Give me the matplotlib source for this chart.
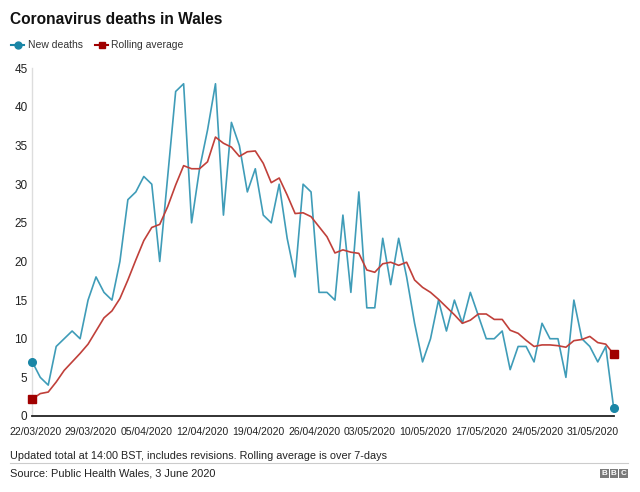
import matplotlib
matplotlib.use("Agg")
import matplotlib.pyplot as plt
import matplotlib.transforms as mtransforms
from matplotlib.lines import Line2D
from matplotlib.patches import Rectangle
import pandas as pd

plt.rcParams['font.family'] = ['Liberation Sans', 'DejaVu Sans']

start_date = "2020-03-22"
new_deaths = [7, 5, 4, 9, 10, 11, 10, 15, 18, 16, 15, 20, 28, 29, 31, 30,
              20, 31, 42, 43, 25, 32, 37, 43, 26, 38, 35, 29, 32, 26, 25, 30,
              23, 18, 30, 29, 16, 16, 15, 26, 16, 29, 14, 14, 23, 17, 23, 18,
              12, 7, 10, 15, 11, 15, 12, 16, 13, 10, 10, 11, 6, 9, 9, 7,
              12, 10, 10, 5, 15, 10, 9, 7, 9, 1]
rolling_avg = [2.2, 2.9, 3.1, 4.4, 5.9, 7.0, 8.1, 9.3, 11.0, 12.7, 13.6, 15.2,
               17.6, 20.2, 22.7, 24.4, 24.8, 27.1, 29.9, 32.4, 32.0, 32.0, 32.9,
               36.1, 35.3, 34.8, 33.6, 34.2, 34.3, 32.7, 30.2, 30.8, 28.6, 26.2,
               26.3, 25.8, 24.5, 23.2, 21.1, 21.5, 21.2, 21.05, 18.9, 18.6, 19.7,
               19.9, 19.5, 19.9, 17.6, 16.65, 16.0, 15.1, 14.1, 13.1, 12.0, 12.4,
               13.2, 13.2, 12.5, 12.5, 11.1, 10.7, 9.8, 9.0, 9.2, 9.2, 9.1, 8.9,
               9.75, 9.9, 10.3, 9.5, 9.3, 8.0]
tick_labels = ["22/03/2020", "29/03/2020", "05/04/2020", "12/04/2020",
               "19/04/2020", "26/04/2020", "03/05/2020", "10/05/2020",
               "17/05/2020", "24/05/2020", "31/05/2020"]
y_ticks = [0, 5, 10, 15, 20, 25, 30, 35, 40, 45]

dates = pd.date_range(start_date, periods=len(new_deaths), freq="D")
tick_dates = pd.to_datetime(tick_labels, format="%d/%m/%Y")

BLUE_LINE = "#3f9cb8"
BLUE_DOT = "#1a86a6"
RED_LINE = "#c0403a"
RED_SQ = "#a00000"

fig = plt.figure(figsize=(6.4, 4.92), dpi=100)
ax = fig.add_axes([32.3 / 640, 1 - 416 / 492, (613.7 - 32.3) / 640, (416 - 68.3) / 492])

ax.plot(dates, new_deaths, color=BLUE_LINE, lw=1.2, zorder=3)
ax.plot(dates, rolling_avg, color=RED_LINE, lw=1.2, zorder=4)
ax.plot([dates[0], dates[-1]], [new_deaths[0], new_deaths[-1]], 'o', color=BLUE_DOT,
        ms=5.5, clip_on=False, zorder=5)
ax.plot([dates[0], dates[-1]], [rolling_avg[0], rolling_avg[-1]], 's', color=RED_SQ,
        ms=5.5, clip_on=False, zorder=5)

ax.set_xlim(dates[0], dates[-1])
ax.set_ylim(0, 45)
ax.set_xticks(tick_dates)
ax.set_xticklabels(tick_labels, fontsize=7.5, color="#222222")
ax.set_yticks(y_ticks)
ax.set_yticklabels([str(v) for v in y_ticks], fontsize=8.5, color="#222222")
ax.tick_params(axis='both', length=0)
ax.tick_params(axis='x', pad=8)
ax.tick_params(axis='y', pad=3.5)
shift = mtransforms.ScaledTranslation(3 / 100, 0, fig.dpi_scale_trans)
for lab in ax.get_xticklabels():
    lab.set_transform(lab.get_transform() + shift)
for s in ['top', 'right']:
    ax.spines[s].set_visible(False)
ax.spines['left'].set_color("#dddddd")
ax.spines['left'].set_linewidth(1.0)
ax.spines['bottom'].set_color("#222222")
ax.spines['bottom'].set_linewidth(1.3)
ax.spines['bottom'].set_zorder(6)

# Title
fig.text(10 / 640, 1 - 20 / 492, "Coronavirus deaths in Wales", fontsize=11.2,
         fontweight='bold', va='center', ha='left', color="#111111")

# Legend (manual)
ly = 1 - 45 / 492
fig.add_artist(Line2D([11 / 640, 24 / 640], [ly, ly], color=BLUE_DOT, lw=1.5,
                      transform=fig.transFigure))
fig.add_artist(Line2D([17.5 / 640], [ly], marker='o', color=BLUE_DOT, ms=5,
                      transform=fig.transFigure))
fig.text(28 / 640, ly, "New deaths", fontsize=7.5, va='center', ha='left', color="#333333")
fig.add_artist(Line2D([95 / 640, 108 / 640], [ly, ly], color=RED_SQ, lw=1.5,
                      transform=fig.transFigure))
fig.add_artist(Line2D([101.5 / 640], [ly], marker='s', color=RED_SQ, ms=5,
                      transform=fig.transFigure))
fig.text(111 / 640, ly, "Rolling average", fontsize=7.5, va='center', ha='left', color="#333333")

# Footer
fig.text(10 / 640, 1 - 456 / 492,
         "Updated total at 14:00 BST, includes revisions. Rolling average is over 7-days",
         fontsize=7.85, va='center', ha='left', color="#222222")
fig.add_artist(Line2D([10 / 640, 628 / 640], [1 - 463 / 492, 1 - 463 / 492],
                      color="#cccccc", lw=0.8, transform=fig.transFigure))
fig.text(10 / 640, 1 - 473 / 492, "Source: Public Health Wales, 3 June 2020",
         fontsize=7.9, va='center', ha='left', color="#222222")

# BBC logo
for i, ch in enumerate("BBC"):
    x0 = (600 + i * 9.5) / 640
    fig.add_artist(Rectangle((x0, 1 - 478 / 492), 8.5 / 640, 9.5 / 492,
                             facecolor="#7a7a7a", edgecolor='none',
                             transform=fig.transFigure))
    fig.text(x0 + 4.25 / 640, 1 - 473.3 / 492, ch, fontsize=5.8, fontweight='bold',
             color='white', ha='center', va='center')

fig.savefig("out.png", dpi=100)
